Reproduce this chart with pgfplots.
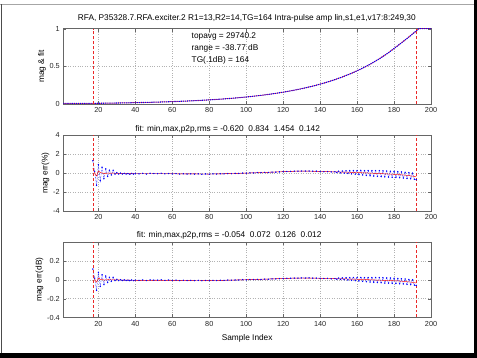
\documentclass[border=0pt]{standalone}
\usepackage{pgfplots}
\pgfplotsset{compat=1.18}
\usepackage{pgfplotstable}
\usepackage{fontspec}
\setmainfont{Liberation Sans}

\pgfplotstableread{
x y
1 0.0112
5 0.0112
10 0.0113
16 0.0114
17 0.0115
22 0.0131
27 0.0149
32 0.0169
37 0.0192
42 0.0218
47 0.0248
52 0.0281
57 0.0320
62 0.0363
67 0.0412
72 0.0469
77 0.0532
82 0.0605
87 0.0687
92 0.0780
97 0.0887
102 0.1007
107 0.1144
112 0.1300
117 0.1477
122 0.1678
127 0.1906
132 0.2165
137 0.2460
142 0.2794
147 0.3175
152 0.3607
157 0.4097
162 0.4654
167 0.5287
172 0.6006
177 0.6823
182 0.7750
187 0.8700
192 0.9700
193 0.9950
194 1.0000
200 1.0000
}\magtab

\pgfplotstableread{
x p d
17 1.30 0.113
18 0.20 0.017
19 -1.30 -0.113
20 0.90 0.078
21 -0.80 -0.070
22 0.60 0.052
23 -0.60 -0.052
24 0.45 0.039
25 -0.35 -0.030
26 0.30 0.026
27 -0.20 -0.017
28 0.30 0.026
29 -0.10 -0.009
30 0.05 0.004
31 -0.10 -0.009
32 0.00 0.000
33 -0.10 -0.009
34 -0.02 -0.002
35 -0.10 -0.009
36 -0.05 -0.004
37 -0.12 -0.010
38 -0.03 -0.003
39 -0.10 -0.009
40 -0.05 -0.004
42 -0.08 -0.007
44 -0.03 -0.003
46 -0.10 -0.009
48 -0.02 -0.002
50 -0.05 -0.004
52 -0.06 -0.005
54 -0.02 -0.002
56 -0.08 -0.007
58 -0.05 -0.004
60 -0.08 -0.007
62 -0.06 -0.005
64 -0.10 -0.009
66 -0.07 -0.006
68 -0.10 -0.009
70 -0.08 -0.007
72 -0.10 -0.009
74 -0.08 -0.007
76 -0.12 -0.010
78 -0.09 -0.008
80 -0.12 -0.010
82 -0.08 -0.007
84 -0.10 -0.009
86 -0.07 -0.006
88 -0.08 -0.007
90 -0.05 -0.004
92 -0.06 -0.005
94 -0.03 -0.003
96 -0.03 -0.003
98 0.00 0.000
100 -0.01 -0.001
102 0.02 0.002
104 0.02 0.002
106 0.05 0.004
108 0.04 0.003
110 0.07 0.006
112 0.07 0.006
114 0.10 0.009
116 0.10 0.009
118 0.13 0.011
120 0.15 0.013
122 0.17 0.015
124 0.18 0.016
126 0.20 0.017
128 0.20 0.017
130 0.22 0.019
132 0.21 0.018
134 0.22 0.019
136 0.20 0.017
138 0.20 0.017
140 0.17 0.015
142 0.15 0.013
144 0.16 0.014
146 0.12 0.010
148 0.14 0.012
149 0.06 0.005
150 0.20 0.017
151 0.03 0.003
152 0.22 0.019
153 0.00 0.000
154 0.24 0.021
155 -0.04 -0.003
156 0.26 0.023
157 -0.08 -0.007
158 0.27 0.023
159 -0.12 -0.010
160 0.27 0.023
161 -0.16 -0.014
162 0.28 0.024
163 -0.20 -0.017
164 0.27 0.023
165 -0.24 -0.021
166 0.27 0.023
167 -0.28 -0.024
168 0.26 0.023
169 -0.31 -0.027
170 0.26 0.023
171 -0.34 -0.030
172 0.25 0.022
173 -0.37 -0.032
174 0.24 0.021
175 -0.40 -0.035
176 0.22 0.019
177 -0.42 -0.037
178 0.20 0.017
179 -0.44 -0.038
180 0.18 0.016
181 -0.46 -0.040
182 0.15 0.013
183 -0.49 -0.043
184 0.12 0.010
185 -0.52 -0.045
186 0.08 0.007
187 -0.56 -0.049
188 0.04 0.003
189 -0.60 -0.052
190 0.00 0.000
191 -0.66 -0.057
192 -0.70 -0.061
}\errtab

\pgfplotstableread{
x p d
17 0.50 0.043
18 0.05 0.004
19 -0.30 -0.026
20 0.20 0.017
21 0.05 0.004
22 0.02 0.002
23 -0.05 -0.004
25 0.00 0.000
30 -0.02 -0.002
40 -0.07 -0.006
60 -0.07 -0.006
80 -0.10 -0.009
90 -0.06 -0.005
100 0.00 0.000
110 0.07 0.006
120 0.15 0.013
130 0.21 0.018
140 0.17 0.015
150 0.12 0.010
160 0.06 0.005
170 -0.03 -0.003
180 -0.13 -0.011
185 -0.20 -0.017
190 -0.32 -0.028
192 -0.40 -0.035
}\fittab

\pgfplotsset{
  mstyle/.style={
    scale only axis, width=368pt, height=75.6pt,
    anchor=south west,
    xmin=1, xmax=200, xtick={20,40,...,200},
    grid=major, grid style={dotted, black!30, line width=0.4pt},
    axis line style={black!60}, tick style={black!60},
    tick align=inside, major tick length=3pt,
    ticklabel style={font=\fontsize{7.3}{8}\selectfont, text=black!85},
    /pgf/number format/assume math mode=true,
    label style={font=\fontsize{8.3}{9}\selectfont},
    ylabel style={yshift=-3pt},
  }
}
\definecolor{vred}{RGB}{235,40,40}
\tikzset{vline/.style={draw=vred, dash pattern=on 3pt off 2pt, line width=0.6pt}}

\begin{document}
\begin{tikzpicture}[x=1pt,y=1pt]
\fill[white] (0,0) rectangle (477,358);
\fill[black] (473.5,0) rectangle (477,358);
\fill[black] (0,0) rectangle (477,4.5);
\draw[black!35, line width=0.6pt] (0,354) -- (473.5,354);
\draw[black!70, line width=0.8pt] (1.5,4.5) -- (1.5,354);

\node[font=\fontsize{8.3}{9}\selectfont] at (246.7,340) {RFA, P35328.7.RFA.exciter.2 R1=13,R2=14,TG=164 Intra-pulse amp lin,s1,e1,v17:8:249,30};
\node[font=\fontsize{8.3}{9}\selectfont] at (227.5,229) {fit: min,max,p2p,rms = -0.620\ \ 0.834\ \ 1.454\ \ 0.142};
\node[font=\fontsize{8.3}{9}\selectfont] at (229,122) {fit: min,max,p2p,rms = -0.054\ \ 0.072\ \ 0.126\ \ 0.012};
\node[font=\fontsize{8.3}{9}\selectfont] at (247,19) {Sample Index};

% top axis
\begin{axis}[mstyle, at={(63pt,253.7pt)}, ymin=0, ymax=1, ytick={0,0.5,1}, ylabel={mag \& fit}]
\addplot[red, line width=0.5pt] table[x=x,y=y] {\magtab};
\addplot[blue, densely dotted, line width=1.1pt] table[x=x,y=y] {\magtab};
\addplot[vline] coordinates {(17,0) (17,1)};
\addplot[vline] coordinates {(192,0) (192,1)};
\node[anchor=west, font=\fontsize{8.3}{9}\selectfont] at (axis cs:68.6,0.894) {topavg = 29740.2};
\node[anchor=west, font=\fontsize{8.3}{9}\selectfont] at (axis cs:68.6,0.740) {range = -38.77 dB};
\node[anchor=west, font=\fontsize{8.3}{9}\selectfont] at (axis cs:68.6,0.586) {TG(.1dB) = 164};
\end{axis}

% middle axis
\begin{axis}[mstyle, at={(63pt,147pt)}, ymin=-4, ymax=4, ytick={-4,-2,0,2,4}, ylabel={mag err(\%)}]
\addplot[blue, densely dotted, line width=0.5pt, mark=*, mark size=0.4pt, mark options={solid}] table[x=x,y=p] {\errtab};
\addplot[red, line width=0.45pt, smooth] table[x=x,y=p] {\fittab};
\addplot[vline] coordinates {(17,-4) (17,4)};
\addplot[vline] coordinates {(192,-4) (192,4)};
\end{axis}

% bottom axis
\begin{axis}[mstyle, at={(63pt,40.3pt)}, ymin=-0.4, ymax=0.4, ytick={-0.4,-0.2,0,0.2}, ylabel={mag err(dB)}]
\addplot[blue, densely dotted, line width=0.5pt, mark=*, mark size=0.4pt, mark options={solid}] table[x=x,y=d] {\errtab};
\addplot[red, line width=0.45pt, smooth] table[x=x,y=d] {\fittab};
\addplot[vline] coordinates {(17,-0.4) (17,0.4)};
\addplot[vline] coordinates {(192,-0.4) (192,0.4)};
\end{axis}
\end{tikzpicture}
\end{document}
